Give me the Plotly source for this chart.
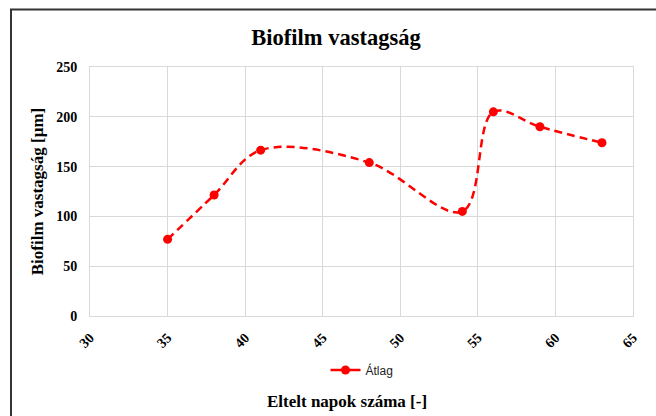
import plotly.graph_objects as go

days = [35, 38, 41, 48, 54, 56, 59, 63]
thickness = [77, 121.5, 166.5, 154, 105, 205, 190, 174]
x_ticks = [30, 35, 40, 45, 50, 55, 60, 65]
y_ticks = [0, 50, 100, 150, 200, 250]

serif = "Liberation Serif, Times New Roman, serif"
red = "#FF0000"

fig = go.Figure()
fig.add_trace(go.Scatter(
    x=days, y=thickness, name="Átlag", mode="lines+markers", showlegend=False,
    line=dict(color=red, width=2.5, dash="8px,5px", shape="spline", smoothing=1.0),
    marker=dict(color=red, size=9),
))
# legend entry (solid line, as in the reference legend)
fig.add_trace(go.Scatter(
    x=[None], y=[None], name="Átlag", mode="lines+markers",
    line=dict(color=red, width=2.5), marker=dict(color=red, size=9),
))

L, R, T, B = 90, 23, 67, 100
W, H = 656, 416
pw, ph = W - L - R, H - T - B

fig.update_layout(
    width=W, height=H,
    margin=dict(l=L, r=R, t=T, b=B),
    paper_bgcolor="white", plot_bgcolor="white",
    title=dict(text="<b>Biofilm vastagság</b>", x=(336 - L) / pw, xref="paper", xanchor="center",
               y=1 - 37 / H, yanchor="middle", font=dict(family=serif, size=22.5, color="black")),
    showlegend=True,
    legend=dict(orientation="h", x=(362 - L) / pw, xanchor="center", y=(H - B - 370) / ph, yanchor="middle",
                font=dict(family="Liberation Sans, Arial, sans-serif", size=12, color="#222"),
                bgcolor="rgba(0,0,0,0)"),
    xaxis=dict(range=[30, 65], tickvals=x_ticks, ticktext=[f"<b>{v}</b>" for v in x_ticks], tickangle=-45,
               showgrid=True, gridcolor="#D9D9D9", gridwidth=1,
               showline=True, linecolor="#D9D9D9", linewidth=1, mirror=True, zeroline=False,
               ticks="", ticklabelstandoff=7, tickfont=dict(family=serif, size=14, color="black")),
    yaxis=dict(range=[0, 250], tickvals=y_ticks, ticktext=[f"<b>{v}</b>" for v in y_ticks],
               showgrid=True, gridcolor="#D9D9D9", gridwidth=1,
               showline=True, linecolor="#D9D9D9", linewidth=1, mirror=True, zeroline=False,
               ticks="", ticklabelstandoff=9, tickfont=dict(family=serif, size=14, color="black"),
               title=dict(text="<b>Biofilm vastagság [µm]</b>", font=dict(family=serif, size=17, color="black"),
                          standoff=8)),
)

fig.add_annotation(text="<b>Eltelt napok száma [-]</b>", xref="paper", yref="paper",
                   x=(347 - L) / pw, y=(H - B - 401) / ph, showarrow=False, xanchor="center", yanchor="middle",
                   font=dict(family=serif, size=17, color="black"))

# outer chart border (extends past right/bottom edges as in the reference)
fig.add_shape(type="rect", xref="paper", yref="paper",
              x0=(11 - L) / pw, x1=(W + 5 - L) / pw,
              y0=(H - B - (H + 5)) / ph, y1=(H - B - 9.5) / ph,
              line=dict(color="#333", width=2), fillcolor="rgba(0,0,0,0)", layer="below")

fig.write_html("out.html")
